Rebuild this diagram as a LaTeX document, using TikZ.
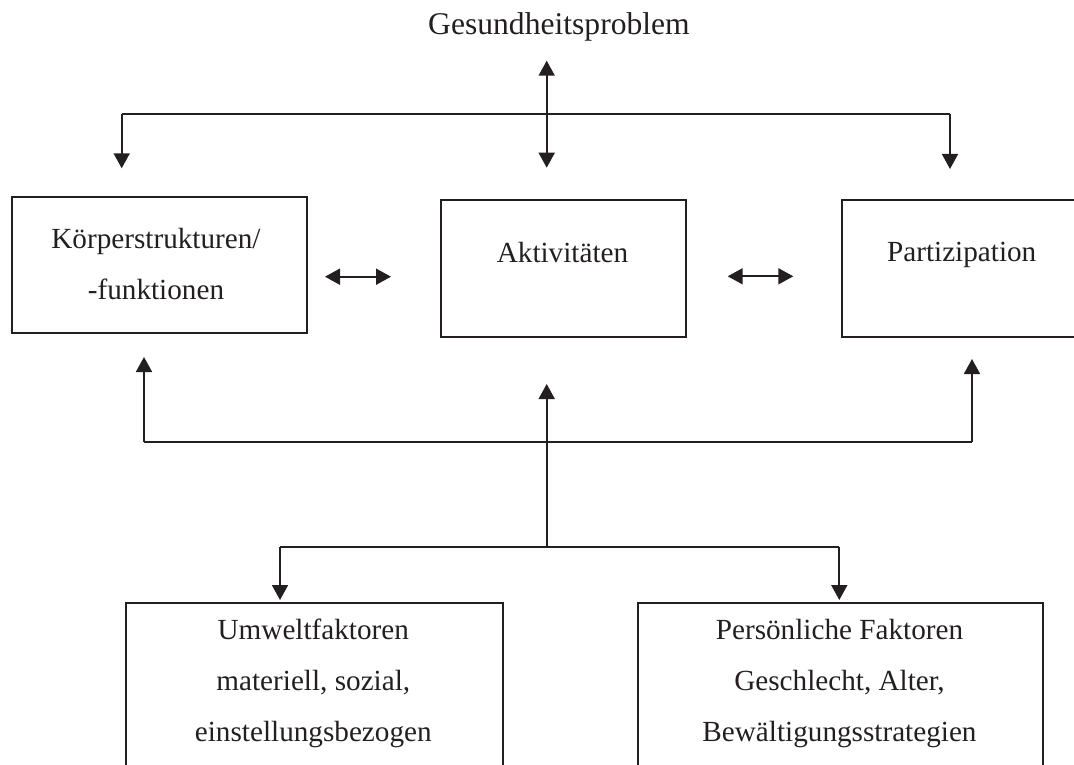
\documentclass[tikz,border=0pt]{standalone}
\usepackage{fontspec}
\setmainfont{Liberation Serif}
\usetikzlibrary{arrows.meta}
\definecolor{ink}{HTML}{231F20}

\tikzset{
  box/.style={draw=ink, line width=1.8pt, anchor=north west, inner sep=0pt},
  lbl/.style={anchor=base, align=center, inner sep=0pt, text=ink},
  link/.style={draw=ink, line width=1.8pt},
  tip/.style={link, -{Triangle[length=15pt,width=16pt]}},
  twotip/.style={link, {Triangle[length=15pt,width=16pt]}-{Triangle[length=15pt,width=16pt]}}
}

\begin{document}
\begin{tikzpicture}[x=1pt, y=-1pt, font=\fontsize{29.2}{51}\selectfont]
  \clip (0,0) rectangle (1074,765);

  % boxes
  \node[box, minimum width=295pt, minimum height=135.7pt] (body) at (10.7,196) {};
  \node[box, minimum width=245pt, minimum height=136.4pt] (act) at (440,199.3) {};
  \node[box, minimum width=300pt, minimum height=136.7pt] (part) at (840.7,199) {};
  \node[box, minimum width=376.7pt, minimum height=200pt] (env) at (125,602.3) {};
  \node[box, minimum width=404.4pt, minimum height=200pt] (pers) at (637.3,602.3) {};

  % texts (base = last line)
  \node[lbl, font=\fontsize{31.6}{38}\selectfont] (prob) at (559,35) {Gesundheitsproblem};
  \node[lbl] (bodytxt) at (156,299) {Körperstrukturen/\\-funktionen};
  \node[lbl] (acttxt) at (562.5,262.3) {Aktivitäten};
  \node[lbl] (parttxt) at (961.7,261.7) {Partizipation};
  \node[lbl] (envtxt) at (313.3,741.7) {Umweltfaktoren\\materiell, sozial,\\einstellungsbezogen};
  \node[lbl] (perstxt) at (839.5,741.7) {Persönliche Faktoren\\Geschlecht, Alter,\\Bewältigungsstrategien};

  % top branch
  \coordinate (up1) at (546.7,60.7);
  \coordinate (dn1) at (546.7,167.7);
  \coordinate (tl) at (121.7,114);
  \coordinate (tr) at (950,114);
  \coordinate (tlx) at (121.7,168.3);
  \coordinate (trx) at (950,169);
  \draw[twotip] (up1) -- (dn1);
  \draw[link] (tl) -- (tr);
  \draw[tip] (tl) -- (tlx);
  \draw[tip] (tr) -- (trx);

  % between boxes
  \coordinate (a1) at (325,276.7);
  \coordinate (a2) at (391,276.7);
  \coordinate (a3) at (727.7,276.3);
  \coordinate (a4) at (793.3,276.3);
  \draw[twotip] (a1) -- (a2);
  \draw[twotip] (a3) -- (a4);

  % middle branch
  \coordinate (ml) at (144,442.3);
  \coordinate (mr) at (972,442.3);
  \coordinate (mlx) at (144,357);
  \coordinate (mrx) at (972,359);
  \coordinate (mc) at (546.7,546.7);
  \coordinate (mcx) at (546.7,384);
  \draw[link] (ml) -- (mr);
  \draw[tip] (ml) -- (mlx);
  \draw[tip] (mr) -- (mrx);
  \draw[tip] (mc) -- (mcx);

  % bottom branch
  \coordinate (bl) at (280,546.7);
  \coordinate (br) at (839.3,546.7);
  \coordinate (blx) at (280,600);
  \coordinate (brx) at (839.3,600);
  \draw[link] (bl) -- (br);
  \draw[tip] (bl) -- (blx);
  \draw[tip] (br) -- (brx);
\end{tikzpicture}
\end{document}
